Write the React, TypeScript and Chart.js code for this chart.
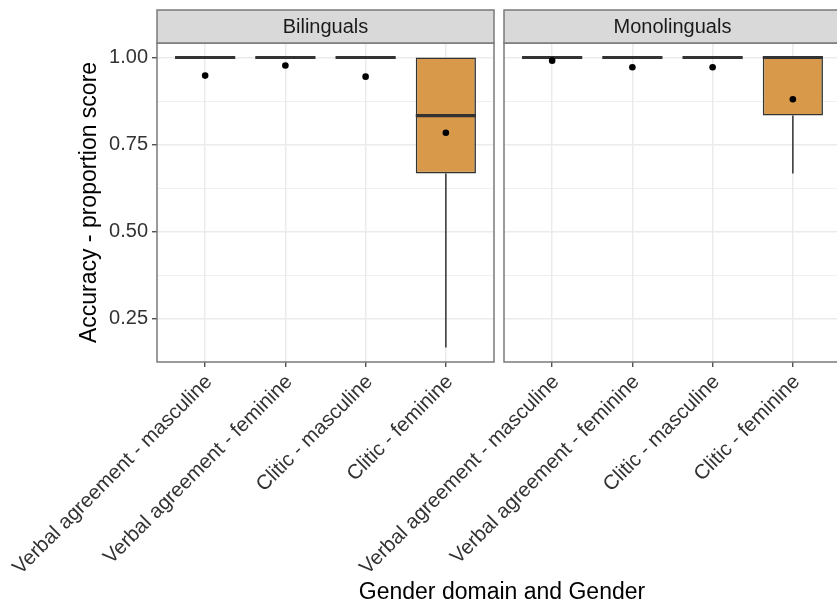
import React, { useEffect, useRef } from "react";
import { Chart, registerables } from "chart.js";

Chart.register(...registerables);

const FONT = '"Liberation Sans", Arial, Helvetica, sans-serif';

// Categories on the x axis of each facet
const categories = [
  "Verbal agreement - masculine",
  "Verbal agreement - feminine",
  "Clitic - masculine",
  "Clitic - feminine",
];
const categoryPositions = [1, 2, 3, 4];

// Bilinguals: box-plot summaries per category
const bilLower = [1, 1, 1, 0.167];
const bilQ1 = [1, 1, 1, 0.667];
const bilMedian = [1, 1, 1, 0.833];
const bilQ3 = [1, 1, 1, 1];
const bilUpper = [1, 1, 1, 1];
const bilMean = [0.948, 0.977, 0.945, 0.784];

// Monolinguals: box-plot summaries per category
const monoLower = [1, 1, 1, 0.667];
const monoQ1 = [1, 1, 1, 0.833];
const monoMedian = [1, 1, 1, 1];
const monoQ3 = [1, 1, 1, 1];
const monoUpper = [1, 1, 1, 1];
const monoMean = [0.991, 0.972, 0.972, 0.88];

// y axis ticks (major carry labels, minor only grid lines)
const yMajorTicks = [0.25, 0.5, 0.75, 1.0];
const yMinorTicks = [0.375, 0.625, 0.875];
const yMin = 0.125;
const yMax = 1.0417;

const BOX_FILL = "#D8994A";
const INK = "#333333";
const GRID = "#EBEBEB";
const FRAME = "#7A7A7A";

const isMinor = (v: number | undefined) =>
  v !== undefined && yMinorTicks.some((m) => Math.abs(m - v) < 1e-6);

type Stats = {
  title: string;
  lower: number[];
  q1: number[];
  median: number[];
  q3: number[];
  upper: number[];
};

// Draws whiskers, medians, the facet strip and the panel frame
const boxFacetPlugin = {
  id: "boxFacet",
  beforeDatasetDraw(chart: any, args: any, opts: Stats) {
    if (args.index !== 0) return;
    const { ctx, scales } = chart;
    const meta = chart.getDatasetMeta(0);
    ctx.save();
    ctx.strokeStyle = INK;
    ctx.lineWidth = 1.5;
    meta.data.forEach((bar: any, i: number) => {
      const x = bar.x;
      const segs = [
        [opts.lower[i], opts.q1[i]],
        [opts.q3[i], opts.upper[i]],
      ];
      segs.forEach(([a, b]) => {
        if (Math.abs(a - b) < 1e-9) return;
        ctx.beginPath();
        ctx.moveTo(x, scales.y.getPixelForValue(a));
        ctx.lineTo(x, scales.y.getPixelForValue(b));
        ctx.stroke();
      });
    });
    ctx.restore();
  },
  afterDatasetDraw(chart: any, args: any, opts: Stats) {
    if (args.index !== 0) return;
    const { ctx, scales } = chart;
    const meta = chart.getDatasetMeta(0);
    ctx.save();
    ctx.strokeStyle = INK;
    ctx.lineWidth = 3.2;
    meta.data.forEach((bar: any, i: number) => {
      const half = bar.width / 2;
      const y = scales.y.getPixelForValue(opts.median[i]);
      ctx.beginPath();
      ctx.moveTo(bar.x - half, y);
      ctx.lineTo(bar.x + half, y);
      ctx.stroke();
    });
    ctx.restore();
  },
  afterDraw(chart: any, _args: any, opts: Stats) {
    const { ctx, chartArea } = chart;
    const { left, right, top, bottom } = chartArea;
    const stripH = 33;
    ctx.save();
    // panel frame
    ctx.strokeStyle = FRAME;
    ctx.lineWidth = 1.5;
    ctx.strokeRect(left, top, right - left, bottom - top);
    // facet strip
    ctx.fillStyle = "#D9D9D9";
    ctx.fillRect(left, top - stripH, right - left, stripH);
    ctx.strokeRect(left, top - stripH, right - left, stripH);
    ctx.fillStyle = "#1A1A1A";
    ctx.font = `20px ${FONT}`;
    ctx.textAlign = "center";
    ctx.textBaseline = "middle";
    ctx.fillText(opts.title, (left + right) / 2, top - stripH / 2 + 1);
    ctx.restore();
  },
};

type PanelProps = Stats & {
  mean: number[];
  showYAxis: boolean;
  left: number;
  width: number;
  padLeft: number;
  padRight: number;
};

function FacetPanel(props: PanelProps) {
  const ref = useRef<HTMLCanvasElement>(null);

  useEffect(() => {
    if (!ref.current) return;
    const { title, lower, q1, median, q3, upper, mean, showYAxis, padLeft, padRight } = props;

    const chart = new Chart(ref.current, {
      type: "bar",
      data: {
        datasets: [
          {
            type: "bar",
            order: 2,
            data: categoryPositions.map((x, i) => ({ x, y: [q1[i], q3[i]] })) as any,
            backgroundColor: BOX_FILL,
            borderColor: INK,
            borderWidth: 1.6,
            borderSkipped: false,
            categoryPercentage: 1,
            barPercentage: 0.75,
          },
          {
            type: "scatter",
            order: 1,
            data: categoryPositions.map((x, i) => ({ x, y: mean[i] })),
            backgroundColor: "#000000",
            borderWidth: 0,
            pointRadius: 3.3,
          } as any,
        ],
      },
      options: {
        responsive: false,
        animation: false,
        devicePixelRatio: 1,
        layout: { padding: { top: 43, left: padLeft, right: padRight, bottom: 0 } },
        plugins: {
          legend: { display: false },
          tooltip: { enabled: false },
          boxFacet: { title, lower, q1, median, q3, upper },
        } as any,
        scales: {
          x: {
            type: "linear",
            min: 0.4,
            max: 4.6,
            bounds: "data",
            offset: false,
            afterBuildTicks: (s: any) => {
              s.ticks = categoryPositions.map((v) => ({ value: v }));
            },
            afterFit: (s: any) => {
              s.height = 243;
              // rotated labels may hang past the panel edge; keep the panel where it is
              s.paddingLeft = 0;
              s.paddingRight = 0;
            },
            border: { display: false },
            grid: {
              offset: false,
              color: GRID,
              lineWidth: 1.5,
              drawTicks: true,
              tickLength: 5,
              tickColor: INK,
              tickWidth: 1.2,
            },
            ticks: {
              autoSkip: false,
              minRotation: 45,
              maxRotation: 45,
              padding: 3,
              labelOffset: 4,
              color: INK,
              font: { family: FONT, size: 20.5 },
              callback: (v: any) => categories[Math.round(Number(v)) - 1] ?? "",
            },
          },
          y: {
            type: "linear",
            min: yMin,
            max: yMax,
            bounds: "data",
            afterBuildTicks: (s: any) => {
              s.ticks = [...yMajorTicks, ...yMinorTicks]
                .sort((a, b) => a - b)
                .map((v) => ({ value: v }));
            },
            afterFit: (s: any) => {
              s.width = showYAxis ? 157 : 0;
            },
            border: { display: false },
            grid: {
              color: GRID,
              lineWidth: (c: any) => (isMinor(c.tick?.value) ? 0.8 : 1.5),
              drawTicks: showYAxis,
              tickLength: 5,
              tickColor: (c: any) => (isMinor(c.tick?.value) ? "rgba(0,0,0,0)" : INK),
              tickWidth: 1.2,
            },
            ticks: {
              display: showYAxis,
              autoSkip: false,
              padding: 4,
              color: INK,
              font: { family: FONT, size: 20 },
              callback: (v: any) => (isMinor(Number(v)) ? "" : Number(v).toFixed(2)),
            },
            title: {
              display: showYAxis,
              text: "Accuracy - proportion score",
              color: "#000000",
              font: { family: FONT, size: 23 },
              padding: { top: 76, bottom: 0 },
            },
          },
        },
      },
      plugins: [boxFacetPlugin],
    } as any);

    return () => chart.destroy();
  }, []);

  return (
    <canvas
      ref={ref}
      width={props.width}
      height={605}
      style={{ position: "absolute", left: props.left, top: 0, width: props.width, height: 605 }}
    />
  );
}

export default function App() {
  return (
    <div
      style={{
        position: "fixed",
        left: 0,
        top: 0,
        width: 837,
        height: 605,
        overflow: "hidden",
        background: "#FFFFFF",
      }}
    >
      <FacetPanel
        title="Bilinguals"
        lower={bilLower}
        q1={bilQ1}
        median={bilMedian}
        q3={bilQ3}
        upper={bilUpper}
        mean={bilMean}
        showYAxis={true}
        left={0}
        width={500}
        padLeft={0}
        padRight={6}
      />
      <FacetPanel
        title="Monolinguals"
        lower={monoLower}
        q1={monoQ1}
        median={monoMedian}
        q3={monoQ3}
        upper={monoUpper}
        mean={monoMean}
        showYAxis={false}
        left={150}
        width={695}
        padLeft={354}
        padRight={4}
      />
      <div
        style={{
          position: "absolute",
          left: 502,
          top: 580,
          transform: "translateX(-50%)",
          whiteSpace: "nowrap",
          fontFamily: FONT,
          fontSize: 23,
          lineHeight: "23px",
          color: "#000000",
        }}
      >
        Gender domain and Gender
      </div>
    </div>
  );
}
